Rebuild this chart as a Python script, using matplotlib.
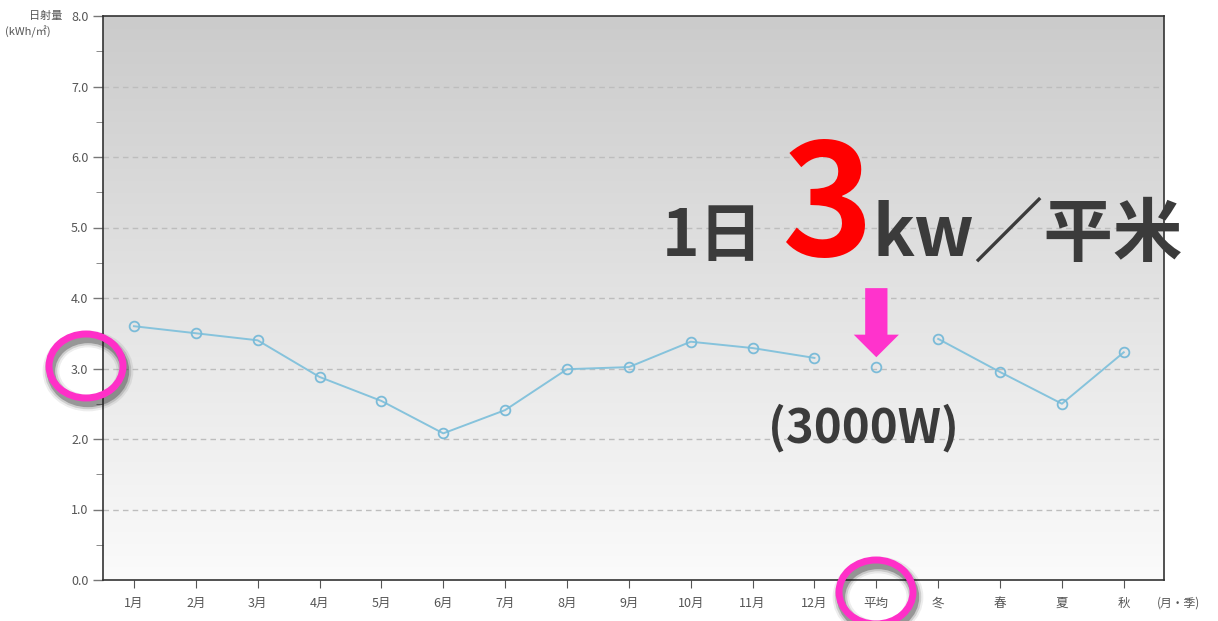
import numpy as np
import matplotlib
matplotlib.use("Agg")
import matplotlib.pyplot as plt
from matplotlib.patches import Ellipse, FancyArrow

plt.rcParams["font.family"] = ["Noto Sans CJK JP", "DejaVu Sans"]

# data
months = ["1月", "2月", "3月", "4月", "5月", "6月", "7月", "8月", "9月", "10月", "11月", "12月"]
month_vals = [3.60, 3.50, 3.40, 2.88, 2.54, 2.08, 2.41, 2.99, 3.02, 3.38, 3.29, 3.15]
avg_label = "平均"
avg_val = 3.02
seasons = ["冬", "春", "夏", "秋"]
season_vals = [3.42, 2.95, 2.50, 3.23]
yticks = [0.0, 1.0, 2.0, 3.0, 4.0, 5.0, 6.0, 7.0, 8.0]

labels = months + [avg_label] + seasons
W, H = 1218, 621
fig = plt.figure(figsize=(W / 100, H / 100), dpi=100)
ax = fig.add_axes([103 / W, 41 / H, 1061 / W, 564 / H])

# background gradient
grad = np.linspace(0, 1, 256).reshape(-1, 1)
ax.imshow(grad, cmap=matplotlib.colors.LinearSegmentedColormap.from_list(
    "bg", ["#fbfbfb", "#cbcbcb"]), aspect="auto", origin="lower",
    extent=[0, 1, 0, 1], transform=ax.transAxes, zorder=0)

line_kw = dict(color="#86c3dc", lw=1.4, marker="o", ms=7, mfc="none",
               mec="#7bbbd8", mew=1.3, zorder=3)
xm = np.arange(len(months))
ax.plot(xm, month_vals, **line_kw)
ax.plot([len(months)], [avg_val], **line_kw)
xs = np.arange(len(months) + 1, len(labels))
ax.plot(xs, season_vals, **line_kw)

ax.set_xlim(-0.5, 16.65)
ax.set_ylim(0, 8)
ax.set_yticks(yticks)
ax.set_yticklabels([f"{v:.1f}" for v in yticks])
ax.set_yticks(np.arange(0.5, 8, 1.0), minor=True)
ax.set_xticks(np.arange(len(labels)))
ax.set_xticklabels(labels)
ax.tick_params(axis="both", colors="#555555", labelsize=9, direction="out")
ax.tick_params(axis="y", length=7, width=1, color="#777777")
ax.tick_params(axis="y", which="minor", length=5, color="#777777")
ax.tick_params(axis="x", length=6, color="#555555", pad=6)
for s in ax.spines.values():
    s.set_color("#333333")
    s.set_linewidth(1.2)
for v in yticks[1:-1]:
    ax.axhline(v, color="#bdbdbd", lw=1, ls=(0, (4, 3)), zorder=1)

# axis captions
fig.text(62 / W, 1 - 16 / H, "日射量", ha="right", va="center", fontsize=8, color="#555555")
fig.text(5 / W, 1 - 32 / H, "(kWh/㎡)", ha="left", va="center", fontsize=8, color="#555555")
fig.text(1157 / W, 1 - 603 / H, "(月・季)", ha="left", va="center", fontsize=8.5, color="#555555")

# highlight circles with a soft drop shadow
for cx, cy in [(86, 366), (876, 592)]:
    for lw, a in [(12, 0.08), (9, 0.15), (6, 0.3)]:
        fig.add_artist(Ellipse((cx + 2, H - cy - 5), 74, 64, transform=None, fill=False,
                               ec="#1a1a1a", lw=lw, alpha=a, zorder=9))
    fig.add_artist(Ellipse((cx, H - cy), 74, 64, transform=None, fill=False,
                           ec="#ff2fc8", lw=5, zorder=10))

# arrow pointing to the average
ax.add_patch(FancyArrow(12, 4.14, 0, -0.98, width=0.36, head_width=0.73,
                        head_length=0.32, length_includes_head=True,
                        color="#ff33cc", lw=0, zorder=6))

# headline text
dark = "#3b3b3b"
fig.text(662 / W, 1 - 256 / H, "1日", fontsize=46, fontweight="bold", color=dark, va="baseline")
fig.text(782 / W, 1 - 256 / H, "3", fontsize=112, fontweight="bold", color="#ff0000", va="baseline")
fig.text(872 / W, 1 - 256 / H, "kw／平米", fontsize=50, fontweight="bold", color=dark, va="baseline")
fig.text(768 / W, 1 - 443 / H, "(3000W)", fontsize=34, fontweight="bold", color=dark, va="baseline")

fig.savefig("out.png", dpi=100)
